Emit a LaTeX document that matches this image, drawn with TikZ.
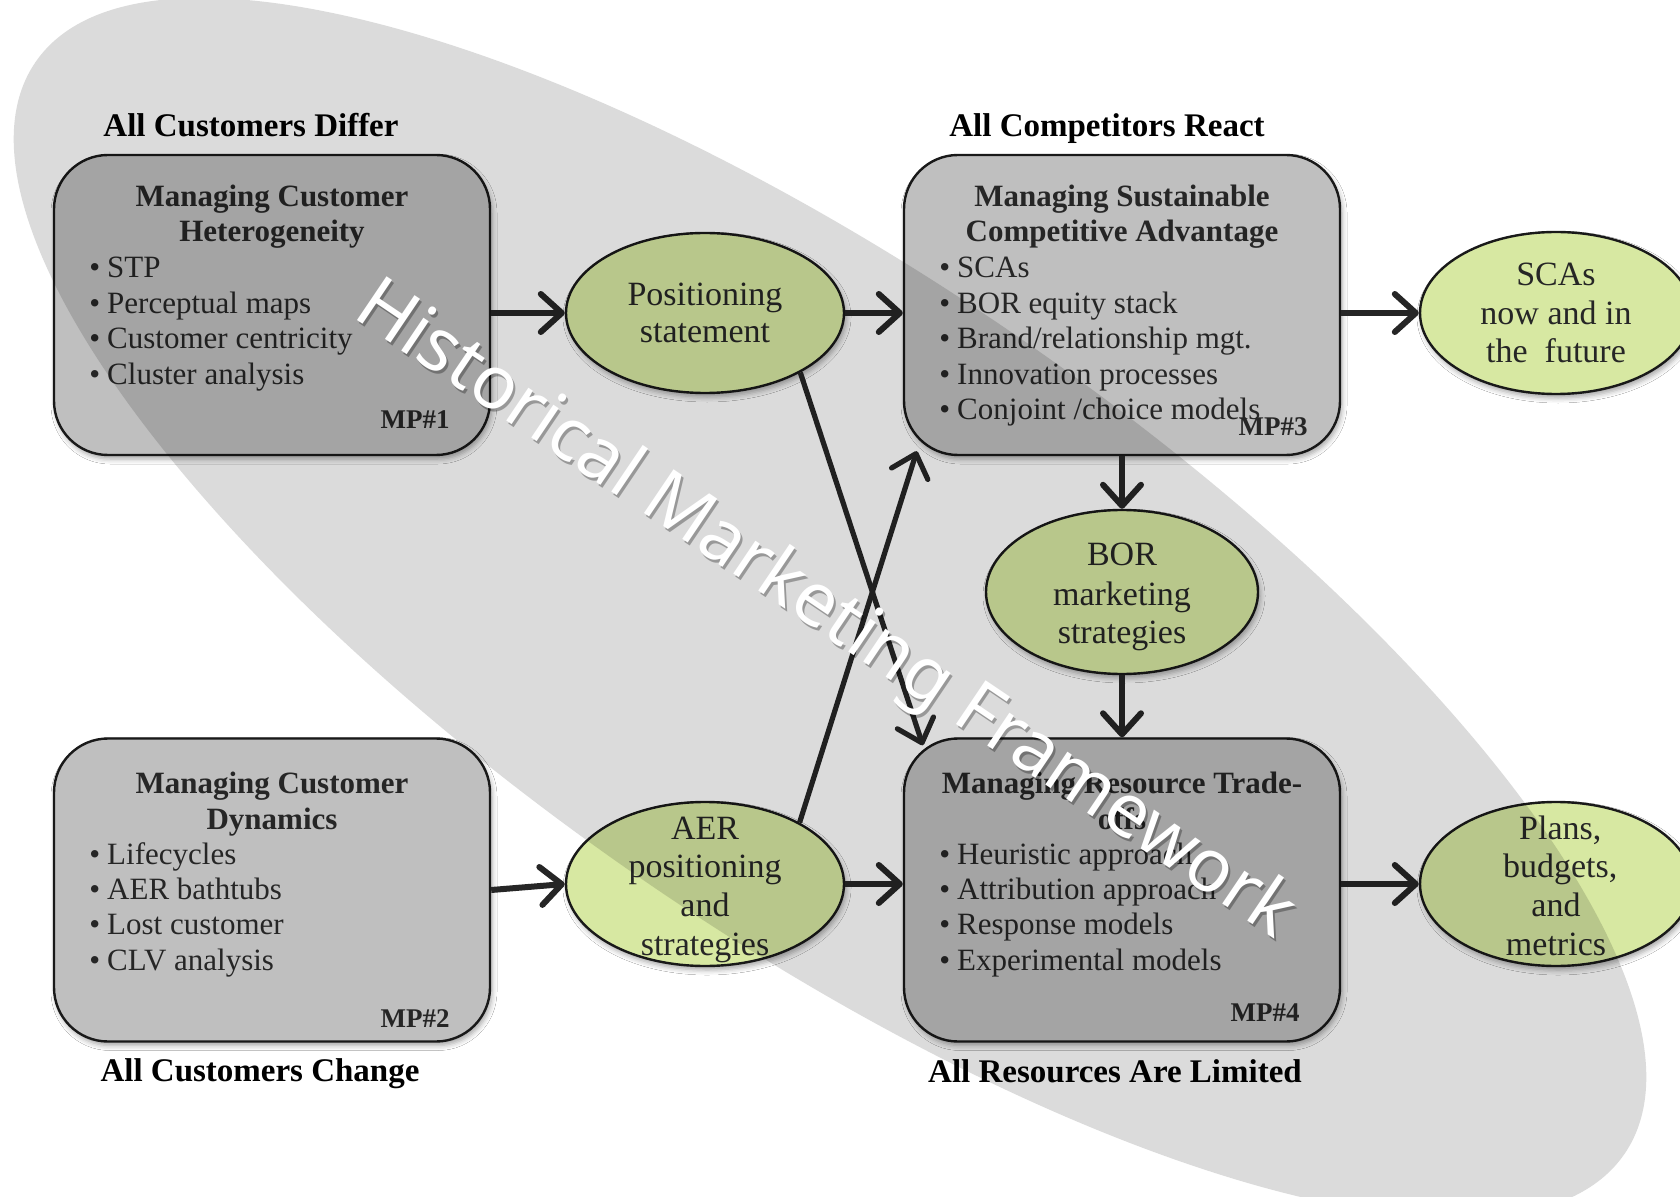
\documentclass[tikz,border=0pt]{standalone}
\usepackage{fontspec}
\setmainfont{Liberation Serif}
\newfontfamily\markfont{Noto Sans}
\usetikzlibrary{shapes.geometric,arrows.meta,calc,shadows.blur}
\definecolor{boxgray}{HTML}{BFBFBF}
\definecolor{ovalgreen}{HTML}{D7E8A2}
\definecolor{ink}{HTML}{262626}
\begin{document}
\begin{tikzpicture}[x=0.5pt,y=-0.5pt,
  softshadow/.style={blur shadow={shadow xshift=1pt,shadow yshift=-2pt,shadow blur radius=2.5pt,shadow opacity=35}},
  mpbox/.style={draw=black!90,line width=1.2pt,fill=boxgray,rounded corners=27pt,
    minimum width=218pt,minimum height=150pt,inner sep=0pt,softshadow},
  oval/.style={ellipse,draw=black!90,line width=1.2pt,fill=ovalgreen,inner sep=0pt,softshadow},
  head/.style={font=\fontsize{16.5}{19}\selectfont\bfseries,text=black,anchor=base,inner sep=0pt},
  ttl/.style={font=\fontsize{15.5}{17.7}\selectfont\bfseries,text=ink,anchor=base,inner sep=0pt},
  item/.style={font=\fontsize{15.5}{17.7}\selectfont,text=ink,anchor=base west,inner sep=0pt},
  tag/.style={font=\fontsize{13.5}{16}\selectfont\bfseries,text=ink,anchor=base east,inner sep=0pt},
  otxt/.style={font=\fontsize{17}{19.3}\selectfont,text=ink,anchor=base,inner sep=0pt},
  conn/.style={draw=ink,line width=3pt,-{Straight Barb[length=10.5pt,width=19pt,round]}},
  slant/.style={conn,line width=2.6pt}
]
\useasboundingbox (0,0) rectangle (1680,1197);
\fill[white] (0,0) rectangle (1680,1197);

% ---- the four management boxes
\node[mpbox] (MP1) at (272,305) {};
\node[mpbox,minimum height=151.5pt] (MP2) at (272,890) {};
\node[mpbox] (MP3) at (1122,305) {};
\node[mpbox,minimum height=151.5pt] (MP4) at (1122,890) {};

% ---- outcome ovals
\node[oval,minimum width=139pt,minimum height=80pt] (Pos) at (705,313) {};
\node[oval,minimum width=139pt,minimum height=82pt] (AER) at (705,884) {};
\node[oval,minimum width=136pt,minimum height=82pt] (BOR) at (1122,592) {};
\node[oval,minimum width=136pt,minimum height=81pt] (SCA) at (1556,313) {};
\node[oval,minimum width=136pt,minimum height=82pt] (PLN) at (1556,884) {};

% ---- connectors
\draw[conn] (MP1.east |- Pos.west) -- (Pos.west);
\draw[conn] (Pos.east) -- (Pos.east -| MP3.west);
\draw[conn] (MP3.east |- SCA.west) -- (SCA.west);
\draw[conn] (MP2.east) -- (AER.west);
\draw[conn] (AER.east) -- (AER.east -| MP4.west);
\draw[conn] (MP4.east |- PLN.west) -- (PLN.west);
\draw[conn] (MP3.south) -- (BOR.north);
\draw[conn] (BOR.south) -- (MP4.north);
\coordinate (MP4in) at ($(MP4.north west)+(20,8)$);
\coordinate (MP3in) at ($(MP3.south west)+(14,-5)$);
\draw[slant] (Pos.-32) -- (MP4in);
\draw[slant] (AER.33) -- (MP3in);

% ---- headings around the boxes
\node[head] (hd1) at (251,137) {All Customers Differ};
\node[head] (hd3) at (1107,137) {All Competitors React};
\node[head] (hd2) at (260,1081) {All Customers Change};
\node[head] (hd4) at (1115,1082) {All Resources Are Limited};

% ---- box titles
\node[ttl] (t1a) at (272,207) {Managing Customer};
\node[ttl] (t1b) at (272,242) {Heterogeneity};
\node[ttl] (t3a) at (1122,207) {Managing Sustainable};
\node[ttl] (t3b) at (1122,242) {Competitive Advantage};
\node[ttl] (t2a) at (272,793) {Managing Customer};
\node[ttl] (t2b) at (272,829) {Dynamics};
\node[ttl] (t4a) at (1122,793) {Managing Resource Trade-};
\node[ttl] (t4b) at (1122,829) {offs};

% ---- bullet lists
\foreach \t [count=\i] in {STP,Perceptual maps,Customer centricity,Cluster analysis}
  \node[item] (b1-\i) at (89,278+35.4*\i-35.4) {•\hspace{3.5pt}\t};
\foreach \t [count=\i] in {SCAs,BOR equity stack,Brand/relationship mgt.,Innovation processes,Conjoint /choice models}
  \node[item] (b3-\i) at (939,278+35.4*\i-35.4) {•\hspace{3.5pt}\t};
\foreach \t [count=\i] in {Lifecycles,AER bathtubs,Lost customer,CLV analysis}
  \node[item] (b2-\i) at (89,864+35.4*\i-35.4) {•\hspace{3.5pt}\t};
\foreach \t [count=\i] in {Heuristic approach,Attribution approach,Response models,Experimental models}
  \node[item] (b4-\i) at (939,864+35.4*\i-35.4) {•\hspace{3.5pt}\t};

% ---- box tags
\node[tag] (tag1) at (450,429) {MP\#1};
\node[tag] (tag2) at (450,1027) {MP\#2};
\node[tag] (tag3) at (1308,436) {MP\#3};
\node[tag] (tag4) at (1300,1021) {MP\#4};

% ---- oval texts
\node[otxt] (pos1) at (705,306) {Positioning};
\node[otxt] (pos2) at (705,343) {statement};
\node[otxt] (sca1) at (1556,286) {SCAs};
\node[otxt] (sca2) at (1556,325) {now and in};
\node[otxt] (sca3) at (1556,363) {the~~future};
\node[otxt] (bor1) at (1122,566) {BOR};
\node[otxt] (bor2) at (1122,605) {marketing};
\node[otxt] (bor3) at (1122,643) {strategies};
\foreach \t [count=\i] in {AER,positioning,and,strategies}
  \node[otxt] (aer-\i) at (705,839+38.7*\i-38.7) {\t};
\foreach \t [count=\i] in {Plans\rlap{,},budgets\rlap{,},and,metrics}
  \node[otxt] (pln-\i) at (1556,839+38.7*\i-38.7) {\t};

% ---- translucent framework band
\fill[black,opacity=0.14] (830,608) ellipse [x radius=482pt,y radius=165pt,rotate=-34.5];

% ---- band caption
\node[font=\markfont\fontsize{37}{40}\selectfont,text=black,opacity=0.3,rotate=-34,inner sep=0pt]
  (capshade) at ($(824,612)+(2,3)$) {Historical Marketing Framework};
\node[font=\markfont\fontsize{37}{40}\selectfont,text=white,rotate=-34,inner sep=0pt]
  (cap) at (824,612) {Historical Marketing Framework};
\end{tikzpicture}
\end{document}
